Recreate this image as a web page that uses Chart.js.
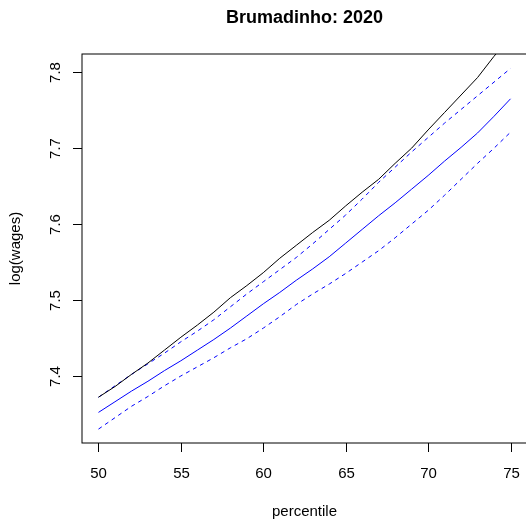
<!DOCTYPE html>
<html>
<head>
<meta charset="utf-8">
<script src="https://cdn.jsdelivr.net/npm/chart.js@4/dist/chart.umd.min.js"></script>
<style>
  html, body { margin: 0; padding: 0; overflow: hidden; background: #fff; }
  #wrap { width: 530px; height: 525px; }
</style>
</head>
<body>
<div id="wrap"><canvas id="chart" width="530" height="525"></canvas></div>
<script>
const percentiles = [50, 51, 52, 53, 54, 55, 56, 57, 58, 59, 60, 61, 62, 63, 64, 65, 66, 67, 68, 69, 70, 71, 72, 73, 74, 75];
const observed = [7.372, 7.386, 7.402, 7.417, 7.434, 7.451, 7.467, 7.484, 7.503, 7.519, 7.536, 7.555, 7.572,
                  7.589, 7.605, 7.624, 7.642, 7.659, 7.680, 7.700, 7.724, 7.747, 7.770, 7.793, 7.821, 7.846];
const fitted = [7.352, 7.366, 7.380, 7.393, 7.407, 7.420, 7.434, 7.448, 7.463, 7.479, 7.495, 7.510, 7.526,
                7.541, 7.557, 7.575, 7.593, 7.611, 7.628, 7.646, 7.664, 7.683, 7.701, 7.720, 7.742, 7.765];
const upperBand = [7.372, 7.387, 7.402, 7.416, 7.430, 7.445, 7.459, 7.474, 7.491, 7.508, 7.524, 7.540, 7.556,
                   7.574, 7.593, 7.612, 7.633, 7.655, 7.675, 7.695, 7.714, 7.733, 7.751, 7.769, 7.787, 7.805];
const lowerBand = [7.330, 7.345, 7.360, 7.373, 7.387, 7.400, 7.412, 7.424, 7.437, 7.449, 7.463, 7.478, 7.494,
                   7.508, 7.521, 7.535, 7.550, 7.565, 7.582, 7.600, 7.618, 7.638, 7.659, 7.680, 7.700, 7.721];
const xTicks = [50, 55, 60, 65, 70, 75];
const yTicks = [7.4, 7.5, 7.6, 7.7, 7.8];

const toPoints = (ys) => percentiles.map((x, i) => ({ x: x, y: ys[i] }));

const FONT = '"Liberation Sans", Arial, Helvetica, sans-serif';

// R style box, ticks and labels drawn from the chart's own scales
const rAxes = {
    id: 'rAxes',
    afterDraw(chart) {
        const ctx = chart.ctx;
        const a = chart.chartArea;
        const xs = chart.scales.x;
        const ys = chart.scales.y;
        ctx.save();
        ctx.strokeStyle = '#000';
        ctx.lineWidth = 1;
        ctx.strokeRect(a.left, a.top, a.right - a.left, a.bottom - a.top);

        ctx.fillStyle = '#000';
        ctx.font = '15px ' + FONT;
        ctx.textAlign = 'center';
        ctx.textBaseline = 'alphabetic';
        xTicks.forEach(v => {
            const px = Math.round(xs.getPixelForValue(v)) + 0.5;
            ctx.beginPath();
            ctx.moveTo(px, a.bottom);
            ctx.lineTo(px, a.bottom + 9);
            ctx.stroke();
            ctx.fillText(String(v), px, 478);
        });
        yTicks.forEach(v => {
            const py = Math.round(ys.getPixelForValue(v)) + 0.5;
            ctx.beginPath();
            ctx.moveTo(a.left, py);
            ctx.lineTo(a.left - 9, py);
            ctx.stroke();
            ctx.save();
            ctx.translate(60, py);
            ctx.rotate(-Math.PI / 2);
            ctx.fillText(v.toFixed(1), 0, 0);
            ctx.restore();
        });

        const cx = (a.left + a.right) / 2;
        const cy = (a.top + a.bottom) / 2;
        ctx.fillText('percentile', cx, 516);
        ctx.save();
        ctx.translate(20, cy);
        ctx.rotate(-Math.PI / 2);
        ctx.fillText('log(wages)', 0, 0);
        ctx.restore();

        ctx.font = 'bold 18px ' + FONT;
        ctx.fillText('Brumadinho: 2020', cx, 23);
        ctx.restore();
    }
};

new Chart(document.getElementById('chart').getContext('2d'), {
    type: 'line',
    data: {
        datasets: [
            { label: 'observed', data: toPoints(observed), borderColor: '#000000', borderWidth: 1 },
            { label: 'fitted', data: toPoints(fitted), borderColor: '#0000ff', borderWidth: 1 },
            { label: 'upper', data: toPoints(upperBand), borderColor: '#0000ff', borderWidth: 1, borderDash: [4, 4] },
            { label: 'lower', data: toPoints(lowerBand), borderColor: '#0000ff', borderWidth: 1, borderDash: [4, 4] }
        ]
    },
    options: {
        responsive: false,
        animation: false,
        events: [],
        layout: { padding: { left: 82, top: 54, right: 3, bottom: 82 } },
        elements: { point: { radius: 0 }, line: { tension: 0, fill: false } },
        scales: {
            x: { type: 'linear', min: 49, max: 76, display: false },
            y: { type: 'linear', min: 7.3117, max: 7.824, display: false }
        },
        plugins: {
            legend: { display: false },
            title: { display: false },
            tooltip: { enabled: false }
        }
    },
    plugins: [rAxes]
});
</script>
</body>
</html>
